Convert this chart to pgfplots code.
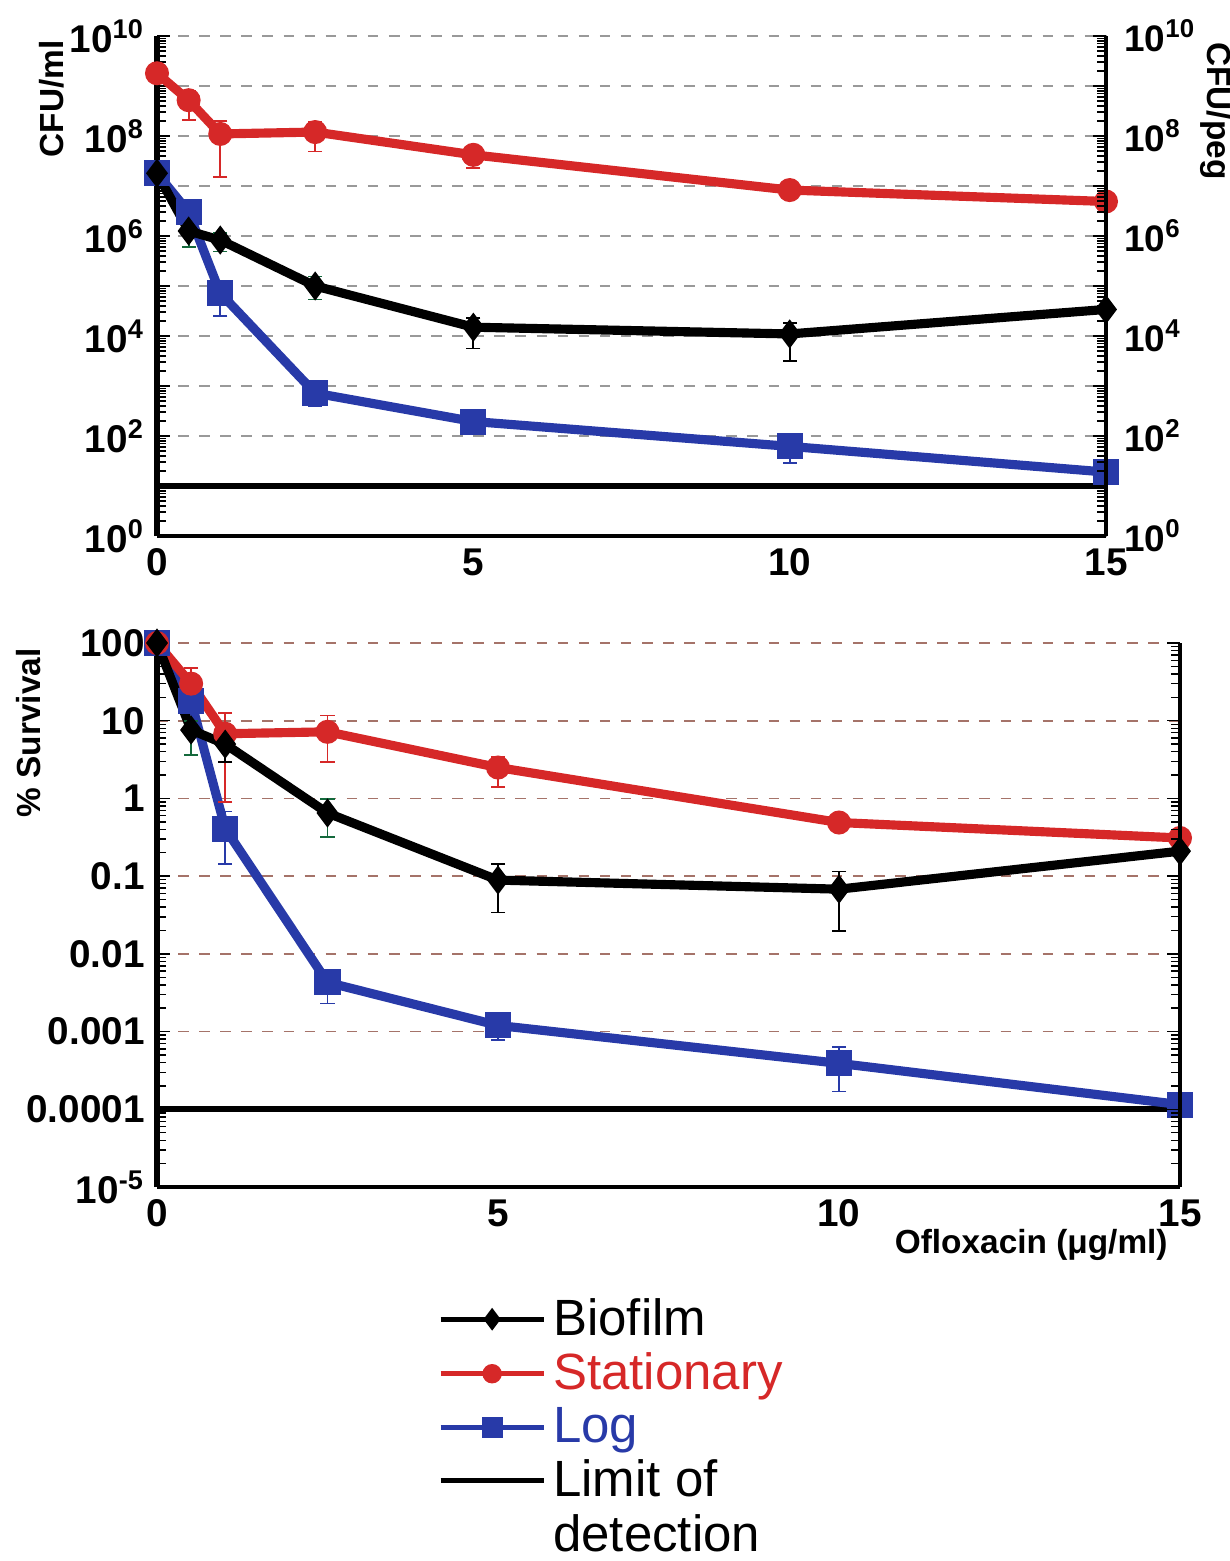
\documentclass[border=0pt]{standalone}
\usepackage{fontspec}
\setmainfont{Liberation Sans}
\usepackage{pgfplots}
\pgfplotsset{compat=1.18}

\definecolor{statred}{RGB}{214,40,40}
\definecolor{logblue}{RGB}{40,58,168}
\definecolor{errgreen}{RGB}{20,105,60}
\definecolor{gridbrown}{RGB}{165,115,105}

\pgfplotsset{
  mypanel/.style={
    scale only axis, xmin=0, xmax=15, clip=false,
    axis x line*=bottom, axis y line*=left,
    x axis line style={line width=1.2pt},
    y axis line style={line width=1.7pt},
    xtick={0,5,10,15}, xticklabels={0,5,10,15},
    xtick style={draw=none},
    tick align=inside,
    ticklabel style={font=\bfseries\fontsize{11}{13}\selectfont},
    major tick length=1.3mm, minor tick length=0.9mm,
    tick style={black, line width=0.4pt},
    ymajorgrids,
    label style={font=\bfseries\fontsize{9.5}{11}\selectfont},
  },
  myright/.style={
    scale only axis, xmin=0, xmax=15,
    axis x line=none, axis y line*=right,
    y axis line style={line width=1.3pt},
    tick align=inside,
    ticklabel style={font=\bfseries\fontsize{10.5}{13}\selectfont},
    yticklabel style={xshift=0.6mm},
    major tick length=1.3mm, minor tick length=0.9mm,
    tick style={black, line width=0.4pt},
    label style={font=\bfseries\fontsize{9.5}{11}\selectfont},
  },
  myerr/.style={line width=0.5pt, mark=-, mark size=2pt, unbounded coords=jump, forget plot},
  mybio/.style={black, line width=2.6pt, mark=diamond*, mark size=2pt, forget plot},
  mystat/.style={statred, line width=2.6pt, mark=*, mark size=2.1pt, forget plot},
  mylog/.style={logblue, line width=2.6pt, mark=square*, mark size=2.4pt, forget plot},
  mylim/.style={black, line width=1.6pt, forget plot},
}

\begin{document}
\begin{tikzpicture}
\useasboundingbox (0,0) rectangle (123mm,-156.1mm);

% ---- top panel: CFU ----
\begin{axis}[mypanel, ymode=log,
  at={(15.7mm,-53.6mm)}, anchor=south west,
  width=94.9mm, height=50mm,
  ymin=1, ymax=1e10,
  ytickten={0,...,10},
  yticklabels={10\textsuperscript{0},{},10\textsuperscript{2},{},10\textsuperscript{4},{},10\textsuperscript{6},{},10\textsuperscript{8},{},10\textsuperscript{10}},
  grid style={dashed, gray!80, line width=0.5pt},
  ylabel={CFU/ml},
  ylabel style={at={(axis description cs:-0.111,0.874)}, anchor=center},
]
\addplot[mylim] coordinates {(0,10) (15,10)};
% error bars
\addplot[myerr, statred] coordinates {(0.5,8.1e8) (0.5,2.1e8) (0.5,nan) (1,2.0e8) (1,1.5e7) (1,nan) (2.5,1.9e8) (2.5,4.9e7) (2.5,nan) (5,5.5e7) (5,2.3e7)};
\addplot[myerr, errgreen] coordinates {(0.5,1.9e6) (0.5,6.0e5) (0.5,nan) (1,1.15e6) (1,4.9e5) (1,nan) (2.5,1.55e5) (2.5,5.4e4)};
\addplot[myerr, black] coordinates {(5,2.3e4) (5,5.6e3) (5,nan) (10,1.8e4) (10,3.2e3)};
\addplot[myerr, logblue] coordinates {(1,1.0e5) (1,2.5e4) (1,nan) (2.5,1.0e3) (2.5,390) (2.5,nan) (5,240) (5,130) (5,nan) (10,93) (10,29)};
% series
\addplot[mylog] coordinates {(0,1.8e7) (0.5,3.0e6) (1,7.2e4) (2.5,720) (5,195) (10,62) (15,19)};
\addplot[mybio] coordinates {(0,1.8e7) (0.5,1.26e6) (1,8.3e5) (2.5,1.0e5) (5,1.5e4) (10,1.1e4) (15,3.4e4)};
\addplot[mystat] coordinates {(0,1.8e9) (0.5,5.2e8) (1,1.1e8) (2.5,1.2e8) (5,4.2e7) (10,8.3e6) (15,4.9e6)};
\end{axis}

\begin{axis}[myright, ymode=log,
  at={(15.7mm,-53.6mm)}, anchor=south west,
  width=94.9mm, height=50mm,
  ymin=1, ymax=1e10,
  ytickten={0,...,10},
  yticklabels={10\textsuperscript{0},{},10\textsuperscript{2},{},10\textsuperscript{4},{},10\textsuperscript{6},{},10\textsuperscript{8},{},10\textsuperscript{10}},
  ylabel={CFU/peg},
  ylabel style={at={(axis description cs:1.116,0.85)}, rotate=180, anchor=center},
]
\addplot[draw=none, forget plot] coordinates {(0,1) (15,1)};
\end{axis}

% ---- bottom panel: % survival ----
\begin{axis}[mypanel, ymode=log,
  at={(15.7mm,-118.7mm)}, anchor=south west,
  width=102.3mm, height=54.4mm,
  ymin=1e-5, ymax=100,
  ytickten={-5,...,2},
  yticklabels={10\textsuperscript{-5},0.0001,0.001,0.01,0.1,1,10,100},
  grid style={dashed, gridbrown, line width=0.5pt},
  ylabel={\% Survival},
  ylabel style={at={(axis description cs:-0.126,0.835)}, anchor=center},
  xlabel={Ofloxacin (μg/ml)},
  xlabel style={at={(axis description cs:1.0,-0.055)}, anchor=north east},
  legend style={at={(axis description cs:0.274,-0.19)}, anchor=north west,
    draw=none, fill=none, font=\fontsize{14.5}{17}\selectfont,
    row sep=-0.5pt, inner sep=0pt},
  legend cell align=left,
  legend image code/.code={\draw[mark repeat=2, mark phase=2] plot coordinates {(0mm,0mm) (5.15mm,0mm) (10.3mm,0mm)};},
]
\addplot[mylim] coordinates {(0,1e-4) (15,1e-4)};
\addplot[myerr, statred] coordinates {(0.5,48) (0.5,19) (0.5,nan) (1,12.6) (1,0.9) (1,nan) (2.5,11.7) (2.5,2.95) (2.5,nan) (5,3.4) (5,1.4) (5,nan) (10,0.58) (10,0.42)};
\addplot[myerr, errgreen] coordinates {(0.5,10) (0.5,3.6) (0.5,nan) (2.5,0.98) (2.5,0.32)};
\addplot[myerr, black] coordinates {(1,6.0) (1,2.95) (1,nan) (5,0.145) (5,0.034) (5,nan) (10,0.115) (10,0.0195)};
\addplot[myerr, logblue] coordinates {(1,0.68) (1,0.145) (1,nan) (2.5,0.0063) (2.5,0.0023) (2.5,nan) (5,0.00155) (5,0.00078) (5,nan) (10,0.00063) (10,0.00017)};
\addplot[mylog] coordinates {(0,100) (0.5,18) (1,0.41) (2.5,0.0043) (5,0.0012) (10,0.00039) (15,0.000115)};
\addplot[mystat] coordinates {(0,100) (0.5,30) (1,6.8) (2.5,7.2) (5,2.5) (10,0.49) (15,0.31)};
\addplot[mybio] coordinates {(0,100) (0.5,7.6) (1,5.0) (2.5,0.65) (5,0.089) (10,0.068) (15,0.21)};
% legend
\addlegendimage{black, line width=1.5pt, mark=diamond*, mark size=2pt}
\addlegendentry{Biofilm}
\addlegendimage{statred, line width=1.5pt, mark=*, mark size=2pt}
\addlegendentry{\textcolor{statred}{Stationary}}
\addlegendimage{logblue, line width=1.5pt, mark=square*, mark size=2.2pt}
\addlegendentry{\textcolor{logblue}{Log}}
\addlegendimage{black, line width=1.5pt}
\addlegendentry{Limit of}
\addlegendimage{empty legend}
\addlegendentry{detection}
\end{axis}

\begin{axis}[myright, ymode=log,
  at={(15.7mm,-118.7mm)}, anchor=south west,
  width=102.3mm, height=54.4mm,
  ymin=1e-5, ymax=100,
  ytickten={-5,...,2},
  yticklabels={},
]
\addplot[draw=none, forget plot] coordinates {(0,1) (15,1)};
\end{axis}
\end{tikzpicture}
\end{document}
